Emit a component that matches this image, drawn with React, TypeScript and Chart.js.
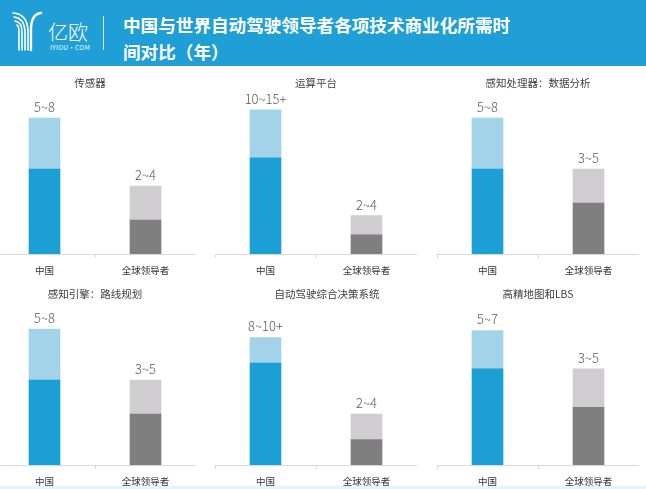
import React, { useEffect, useRef } from "react";
import { Chart, registerables } from "chart.js";

Chart.register(...registerables);

// ---- data ----
const categories = ["中国", "全球领导者"];
const panelTitles = [
  "传感器",
  "运算平台",
  "感知处理器：数据分析",
  "感知引擎：路线规划",
  "自动驾驶综合决策系统",
  "高精地图和LBS",
];
const chinaLow = [5, 10, 5, 5, 8, 5];
const chinaHigh = [8, 15, 8, 8, 10, 7];
const globalLow = [2, 2, 3, 3, 2, 3];
const globalHigh = [4, 4, 5, 5, 4, 5];
const chinaLabels = ["5~8", "10~15+", "5~8", "5~8", "8~10+", "5~7"];
const globalLabels = ["2~4", "2~4", "3~5", "3~5", "2~4", "3~5"];
const axisMax = [10, 17.7, 10, 10, 13.33, 8.85];

const headerTitle1 = "中国与世界自动驾驶领导者各项技术商业化所需时";
const headerTitle2 = "间对比（年）";

// ---- styles ----
const BLUE = "#1c9fd5";
const LIGHT_BLUE = "#a2d3e9";
const DARK_GRAY = "#7f7f7f";
const LIGHT_GRAY = "#cfcdcf";
const HEADER_BG = "#1f9fd6";
const FONT = "'Noto Sans CJK SC', 'Noto Sans', sans-serif";

const colLefts = [-6, 215, 437];
const rowTops = [65, 276];
const titleOffsets = [-5, 0, 0, 0, 11, 0];

const panelTextPlugin = {
  id: "panelText",
  afterDatasetsDraw(chart: any, _args: any, opts: any) {
    const { ctx, chartArea } = chart;
    const xScale = chart.scales.x;
    const yScale = chart.scales.y;
    ctx.save();
    // title
    ctx.font = `400 10.5px ${FONT}`;
    ctx.fillStyle = "#404040";
    ctx.textAlign = "center";
    ctx.textBaseline = "middle";
    const cx = (chartArea.left + chartArea.right) / 2 + (opts.titleOffset || 0);
    ctx.fillText(opts.title, cx, 18);
    // value labels
    ctx.font = `300 13px ${FONT}`;
    ctx.fillStyle = "#5a5a5a";
    opts.labels.forEach((lab: string, i: number) => {
      const x = xScale.getPixelForValue(i);
      const y = yScale.getPixelForValue(opts.tops[i]);
      ctx.fillText(lab, x, y - 11);
    });
    ctx.restore();
  },
};

function Panel({ idx }: { idx: number }) {
  const ref = useRef<HTMLCanvasElement | null>(null);
  useEffect(() => {
    if (!ref.current) return;
    const chart = new Chart(ref.current, {
      type: "bar",
      data: {
        labels: categories,
        datasets: [
          {
            label: "low",
            data: [chinaLow[idx], globalLow[idx]],
            backgroundColor: [BLUE, DARK_GRAY],
            barThickness: 31,
            borderWidth: 0,
          },
          {
            label: "range",
            data: [chinaHigh[idx] - chinaLow[idx], globalHigh[idx] - globalLow[idx]],
            backgroundColor: [LIGHT_BLUE, LIGHT_GRAY],
            barThickness: 31,
            borderWidth: 0,
          },
        ],
      },
      options: {
        animation: false,
        responsive: false,
        maintainAspectRatio: false,
        layout: { padding: { top: 19, left: 0, right: 0, bottom: 0 } },
        plugins: {
          legend: { display: false },
          tooltip: { enabled: false },
          panelText: {
            title: panelTitles[idx],
            titleOffset: titleOffsets[idx],
            labels: [chinaLabels[idx], globalLabels[idx]],
            tops: [chinaHigh[idx], globalHigh[idx]],
          },
        } as any,
        scales: {
          x: {
            stacked: true,
            grid: {
              offset: true,
              drawOnChartArea: false,
              drawTicks: true,
              tickLength: 4,
              color: "#d9d9d9",
            },
            border: { color: "#d9d9d9" },
            ticks: {
              color: "#333333",
              padding: 7,
              font: { family: FONT, size: 9.5 },
            },
            afterFit: (scale: any) => {
              scale.height = 26;
            },
          },
          y: {
            stacked: true,
            display: false,
            min: 0,
            max: axisMax[idx],
          },
        },
      },
      plugins: [panelTextPlugin],
    });
    return () => chart.destroy();
  }, [idx]);
  const col = idx % 3;
  const row = Math.floor(idx / 3);
  return (
    <canvas
      ref={ref}
      width={202}
      height={215}
      style={{
        position: "absolute",
        left: colLefts[col],
        top: rowTops[row],
        width: 202,
        height: 215,
      }}
    />
  );
}

function Logo() {
  return (
    <svg
      width={100}
      height={60}
      style={{ position: "absolute", left: 0, top: 4 }}
      viewBox="0 0 100 60"
    >
      <g fill="none" stroke="#ffffff" strokeWidth={1.6} strokeLinecap="round">
        <path d="M13 9 Q27 10 28 26 L28 46" />
        <path d="M14 13 Q24 14 25 27 L25 46" />
        <path d="M15 17 Q22 18 22 28 L22 46" />
        <path d="M17 21 Q19 22 19 29 L19 46" />
        <path d="M41 9 Q31 10 31 26 L31 46" strokeWidth={2.4} />
      </g>
      <text
        x={48}
        y={36}
        fill="#ffffff"
        fontFamily={FONT}
        fontWeight={300}
        fontSize={20}
      >
        亿欧
      </text>
      <text
        x={50}
        y={46}
        fill="#ffffff"
        fontFamily={FONT}
        fontSize={6.5}
        letterSpacing={0.3}
      >
        IYIOU·COM
      </text>
    </svg>
  );
}

export default function App() {
  return (
    <div
      style={{
        position: "fixed",
        left: 0,
        top: 0,
        width: 646,
        height: 489,
        overflow: "hidden",
        background: "#ffffff",
      }}
    >
      <div
        style={{
          position: "absolute",
          left: 0,
          top: 0,
          width: 646,
          height: 66,
          background: HEADER_BG,
        }}
      >
        <Logo />
        <div
          style={{
            position: "absolute",
            left: 103,
            top: 16,
            width: 1,
            height: 34,
            background: "rgba(255,255,255,0.8)",
          }}
        />
        <div
          style={{
            position: "absolute",
            left: 123,
            top: 11,
            color: "#ffffff",
            fontFamily: FONT,
            fontWeight: 700,
            fontSize: 17.6,
            lineHeight: "27px",
            whiteSpace: "nowrap",
          }}
        >
          <div>{headerTitle1}</div>
          <div>{headerTitle2}</div>
        </div>
      </div>
      {[0, 1, 2, 3, 4, 5].map((i) => (
        <Panel key={i} idx={i} />
      ))}
      <div
        style={{
          position: "absolute",
          left: 0,
          top: 486,
          width: 646,
          height: 3,
          background: "#e2f5fc",
        }}
      />
    </div>
  );
}
